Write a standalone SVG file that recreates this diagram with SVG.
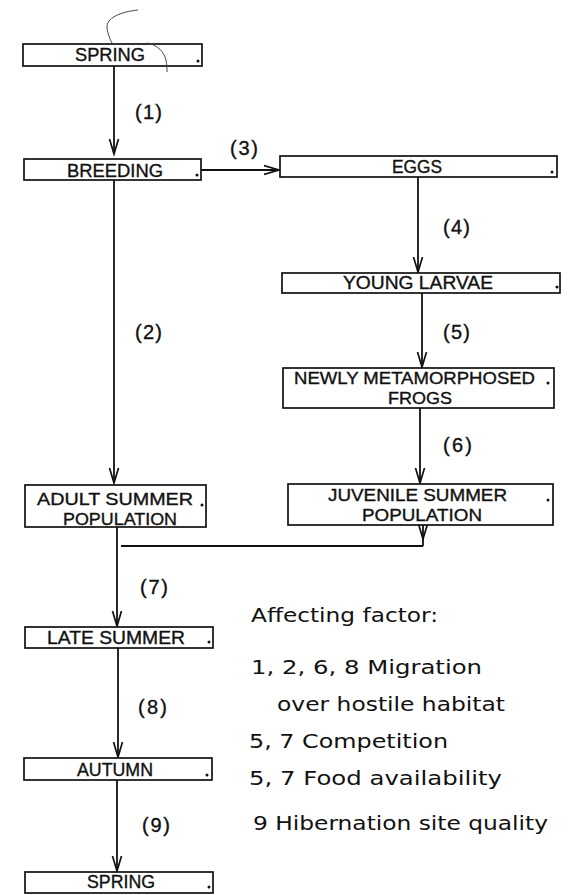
<svg xmlns="http://www.w3.org/2000/svg" width="571" height="895" viewBox="0 0 571 895">
<style>
.box{fill:#fff;stroke:#111;stroke-width:1.7}
.t{font-family:"Liberation Sans",Arial,sans-serif;font-size:18px;fill:#111;stroke:#111;stroke-width:0.35;text-anchor:middle}
.t2{font-size:17px}
.dot{fill:#111}
.c{fill:none;stroke:#111;stroke-width:1.8}
.lbl{font-family:"Liberation Sans",Arial,sans-serif;font-size:20px;fill:#111;stroke:#111;stroke-width:0.35}
.leg{font-family:"DejaVu Sans","Liberation Sans",sans-serif;font-size:20px;fill:#111}
.pen{fill:none;stroke:#444;stroke-width:1}
</style>
<defs>
<marker id="v" markerUnits="userSpaceOnUse" markerWidth="20" markerHeight="14" refX="15" refY="6" orient="auto" viewBox="0 0 20 14">
<path d="M0,1.5 L15,6 L0,10.5" fill="none" stroke="#111" stroke-width="1.7"/>
</marker>
</defs>
<g id="connectors">
<line class="c" x1="114" y1="66" x2="114" y2="154" marker-end="url(#v)"/>
<line class="c" x1="114" y1="180" x2="114" y2="483" marker-end="url(#v)"/>
<line class="c" x1="201" y1="170" x2="279" y2="170" marker-end="url(#v)"/>
<line class="c" x1="418" y1="177" x2="418" y2="272" marker-end="url(#v)"/>
<line class="c" x1="422" y1="293" x2="422" y2="367" marker-end="url(#v)"/>
<line class="c" x1="420" y1="408" x2="420" y2="483" marker-end="url(#v)"/>
<path class="c" d="M423,525 L423,539 L423,546" marker-mid="url(#v)"/>
<line class="c" x1="121" y1="546" x2="423" y2="546"/>
<line class="c" x1="117" y1="527" x2="117" y2="626" marker-end="url(#v)"/>
<line class="c" x1="118" y1="648" x2="118" y2="757" marker-end="url(#v)"/>
<line class="c" x1="117" y1="780" x2="117" y2="871" marker-end="url(#v)"/>
<text class="lbl" x="135" y="119" textLength="27">(1)</text>
<text class="lbl" x="135" y="339" textLength="27">(2)</text>
<text class="lbl" x="230" y="155" textLength="28">(3)</text>
<text class="lbl" x="443" y="234" textLength="27">(4)</text>
<text class="lbl" x="443" y="339" textLength="27">(5)</text>
<text class="lbl" x="443" y="452" textLength="29">(6)</text>
<text class="lbl" x="140" y="594" textLength="28">(7)</text>
<text class="lbl" x="138" y="714" textLength="29">(8)</text>
<text class="lbl" x="142" y="832" textLength="28">(9)</text>
</g>
<g id="spring1">
<rect class="box" x="23" y="44" width="179" height="22"/>
<text class="t" x="110" y="61" textLength="70" lengthAdjust="spacingAndGlyphs">SPRING</text>
<circle class="dot" cx="198" cy="61" r="1.5"/>
</g>
<g id="breeding">
<rect class="box" x="24" y="159" width="177" height="21"/>
<text class="t" x="115" y="177" textLength="96" lengthAdjust="spacingAndGlyphs">BREEDING</text>
<circle class="dot" cx="197" cy="175" r="1.5"/>
</g>
<g id="eggs">
<rect class="box" x="280" y="156" width="277" height="21"/>
<text class="t" x="417" y="173" textLength="50" lengthAdjust="spacingAndGlyphs">EGGS</text>
<circle class="dot" cx="552" cy="172" r="1.5"/>
</g>
<g id="young-larvae">
<rect class="box" x="282" y="273" width="278" height="20"/>
<text class="t" x="418" y="289" textLength="150" lengthAdjust="spacingAndGlyphs">YOUNG LARVAE</text>
<circle class="dot" cx="557" cy="287" r="1.5"/>
</g>
<g id="newly-metamorphosed">
<rect class="box" x="283" y="368" width="271" height="40"/>
<text class="t t2" x="414.5" y="384" textLength="241" lengthAdjust="spacingAndGlyphs">NEWLY METAMORPHOSED</text>
<circle class="dot" cx="548" cy="383" r="1.5"/>
<text class="t t2" x="420" y="404" textLength="64" lengthAdjust="spacingAndGlyphs">FROGS</text>
</g>
<g id="juvenile-summer">
<rect class="box" x="288" y="484" width="265" height="41"/>
<text class="t t2" x="417.5" y="501" textLength="179" lengthAdjust="spacingAndGlyphs">JUVENILE SUMMER</text>
<circle class="dot" cx="548" cy="500" r="1.5"/>
<text class="t t2" x="422" y="521" textLength="120" lengthAdjust="spacingAndGlyphs">POPULATION</text>
</g>
<g id="adult-summer">
<rect class="box" x="25" y="485" width="181" height="42"/>
<text class="t t2" x="115" y="505" textLength="156" lengthAdjust="spacingAndGlyphs">ADULT SUMMER</text>
<circle class="dot" cx="202" cy="505" r="1.5"/>
<text class="t t2" x="120" y="525" textLength="114" lengthAdjust="spacingAndGlyphs">POPULATION</text>
</g>
<g id="late-summer">
<rect class="box" x="25" y="627" width="188" height="21"/>
<text class="t" x="116" y="644" textLength="138" lengthAdjust="spacingAndGlyphs">LATE SUMMER</text>
<circle class="dot" cx="209" cy="642" r="1.5"/>
</g>
<g id="autumn">
<rect class="box" x="24" y="758" width="188" height="22"/>
<text class="t" x="115" y="776" textLength="76" lengthAdjust="spacingAndGlyphs">AUTUMN</text>
<circle class="dot" cx="207" cy="775" r="1.5"/>
</g>
<g id="spring2">
<rect class="box" x="25" y="872" width="188" height="21"/>
<text class="t" x="121" y="888" textLength="68" lengthAdjust="spacingAndGlyphs">SPRING</text>
<circle class="dot" cx="209" cy="887" r="1.5"/>
</g>
<g id="legend">
<text class="leg" x="251" y="622" textLength="187" lengthAdjust="spacingAndGlyphs">Affecting factor:</text>
<text class="leg" x="251" y="674" textLength="231" lengthAdjust="spacingAndGlyphs">1, 2, 6, 8 Migration</text>
<text class="leg" x="277" y="711" textLength="228" lengthAdjust="spacingAndGlyphs">over hostile habitat</text>
<text class="leg" x="249" y="748" textLength="199" lengthAdjust="spacingAndGlyphs">5, 7 Competition</text>
<text class="leg" x="249" y="785" textLength="253" lengthAdjust="spacingAndGlyphs">5, 7 Food availability</text>
<text class="leg" x="253" y="830" textLength="295" lengthAdjust="spacingAndGlyphs">9 Hibernation site quality</text>
</g>
<path class="pen" d="M138,10 C120,12 106,18 107,28 C108,35 110,39 112,43"/>
<path class="pen" d="M147,43 C158,45 164,52 166,60 C167,65 167,69 167,72"/>
</svg>
